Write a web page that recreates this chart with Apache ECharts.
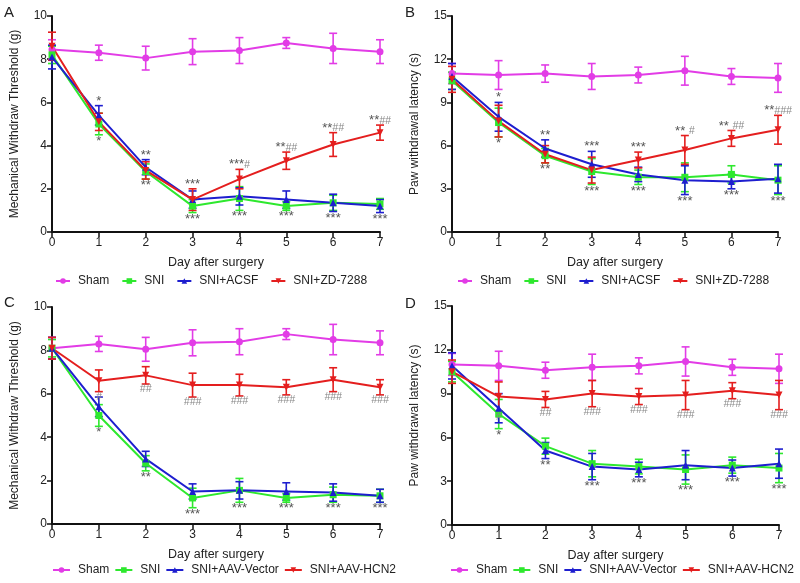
<!DOCTYPE html>
<html><head><meta charset="utf-8">
<script src="https://cdn.jsdelivr.net/npm/echarts@6/dist/echarts.min.js"></script>
<style>html,body{margin:0;padding:0;background:#fff}#c{width:800px;height:583px}</style>
</head><body><div id="c"></div>
<script>
const days = [0,1,2,3,4,5,6,7];

// Panel A: mechanical withdraw threshold (g)
const aShamMean = [8.45, 8.3, 8.05, 8.35, 8.4, 8.75, 8.5, 8.35];
const aShamErr  = [0.45, 0.35, 0.55, 0.6, 0.6, 0.25, 0.7, 0.55];
const aSniMean  = [8.2, 5.0, 2.8, 1.2, 1.55, 1.2, 1.35, 1.3];
const aSniErr   = [0.4, 0.5, 0.35, 0.3, 0.55, 0.2, 0.35, 0.25];
const aAcsfMean = [8.1, 5.4, 3.0, 1.5, 1.65, 1.5, 1.35, 1.2];
const aAcsfErr  = [0.55, 0.45, 0.35, 0.4, 0.4, 0.4, 0.4, 0.3];
const aZdMean   = [8.6, 5.1, 2.85, 1.5, 2.45, 3.3, 4.05, 4.6];
const aZdErr    = [0.65, 0.4, 0.4, 0.5, 0.45, 0.4, 0.55, 0.35];
const aAbove = ['', '*', '**', '***', '***#', '**##', '**##', '**##'];
const aBelow = ['', '*', '**', '***', '***', '***', '***', '***'];

// Panel B: paw withdrawal latency (s)
const bShamMean = [11.0, 10.9, 11.0, 10.8, 10.9, 11.2, 10.8, 10.7];
const bShamErr  = [0.7, 1.0, 0.6, 0.9, 0.55, 1.0, 0.55, 1.0];
const bSniMean  = [10.5, 7.6, 5.3, 4.2, 3.8, 3.8, 4.0, 3.6];
const bSniErr   = [0.6, 1.0, 0.5, 0.9, 0.5, 1.0, 0.6, 1.0];
const bAcsfMean = [10.8, 8.0, 5.8, 4.7, 4.0, 3.6, 3.5, 3.7];
const bAcsfErr  = [0.9, 1.0, 0.6, 0.9, 0.5, 1.0, 0.5, 1.0];
const bZdMean   = [10.6, 7.7, 5.4, 4.3, 5.0, 5.7, 6.5, 7.1];
const bZdErr    = [0.9, 1.1, 0.6, 0.9, 0.55, 1.0, 0.55, 1.0];
const bAbove = ['', '*', '**', '***', '***', '** #', '** ##', '**###'];
const bBelow = ['', '*', '**', '***', '***', '***', '***', '***'];

// Panel C: mechanical withdraw threshold (g)
const cShamMean = [8.1, 8.3, 8.05, 8.35, 8.4, 8.75, 8.5, 8.35];
const cShamErr  = [0.5, 0.35, 0.55, 0.6, 0.6, 0.25, 0.7, 0.55];
const cSniMean  = [8.1, 5.0, 2.8, 1.2, 1.55, 1.2, 1.35, 1.3];
const cSniErr   = [0.4, 0.5, 0.35, 0.45, 0.55, 0.2, 0.35, 0.3];
const cVecMean  = [8.1, 5.4, 3.0, 1.5, 1.55, 1.5, 1.45, 1.3];
const cVecErr   = [0.5, 0.45, 0.35, 0.35, 0.4, 0.4, 0.4, 0.3];
const cHcnMean  = [8.1, 6.6, 6.85, 6.4, 6.4, 6.3, 6.65, 6.3];
const cHcnErr   = [0.5, 0.5, 0.4, 0.55, 0.5, 0.35, 0.55, 0.35];
const cBelow = ['', '*', '**', '***', '***', '***', '***', '***'];
const cHash  = ['', '#', '##', '###', '###', '###', '###', '###'];

// Panel D: paw withdrawal latency (s)
const dShamMean = [11.0, 10.9, 10.6, 10.8, 10.9, 11.2, 10.8, 10.7];
const dShamErr  = [0.75, 1.0, 0.55, 0.9, 0.55, 1.0, 0.55, 1.0];
const dSniMean  = [10.5, 7.6, 5.4, 4.2, 4.0, 3.8, 4.1, 3.9];
const dSniErr   = [0.7, 1.0, 0.55, 0.9, 0.5, 1.0, 0.55, 1.0];
const dVecMean  = [10.9, 8.0, 5.1, 4.0, 3.8, 4.1, 3.9, 4.2];
const dVecErr   = [0.9, 1.0, 0.55, 0.9, 0.5, 1.0, 0.55, 1.0];
const dHcnMean  = [10.5, 8.8, 8.6, 9.0, 8.8, 8.9, 9.2, 8.9];
const dHcnErr   = [0.8, 1.0, 0.55, 0.9, 0.55, 1.0, 0.55, 1.0];
const dBelow = ['', '*', '**', '***', '***', '***', '***', '***'];
const dHash  = ['', '#', '##', '###', '###', '###', '###', '###'];

const COL = {sham:'#e23ce6', sni:'#2ee82e', blue:'#1e1ecf', red:'#e41e1e'};
const FONT = 'Liberation Sans, Arial, sans-serif';

const grids = [
  {left:52, top:16, width:328, height:216},
  {left:452, top:16, width:326, height:216},
  {left:52, top:307, width:328, height:217},
  {left:452, top:306, width:327, height:219}
];
const yNames = ['Mechanical Withdraw Threshold (g)','Paw withdrawal latency (s)','Mechanical Withdraw Threshold (g)','Paw withdrawal latency (s)'];
const yMax = [10, 15, 10, 15];
const yInt = [2, 3, 2, 3];

const xAxes = grids.map((g,i)=>({
  type:'value', gridIndex:i, min:0, max:7, interval:1,
  name:'Day after surgery', nameLocation:'middle', nameGap:24,
  nameTextStyle:{fontFamily:FONT, fontSize:12.5, color:'#222'},
  axisLine:{lineStyle:{color:'#111', width:2}},
  axisTick:{show:true, length:5, lineStyle:{color:'#111', width:1.5}},
  axisLabel:{fontFamily:FONT, fontSize:12, color:'#222', margin:5},
  splitLine:{show:false}
}));
const yAxes = grids.map((g,i)=>({
  type:'value', gridIndex:i, min:0, max:yMax[i], interval:yInt[i],
  name:yNames[i], nameLocation:'middle', nameGap:31, nameRotate:90,
  nameTextStyle:{fontFamily:FONT, fontSize:12, color:'#222'},
  axisLine:{show:true, lineStyle:{color:'#111', width:2}},
  axisTick:{show:true, length:5, lineStyle:{color:'#111', width:1.5}},
  axisLabel:{fontFamily:FONT, fontSize:12, color:'#222', margin:5},
  splitLine:{show:false}
}));

const series = [];
function addGroup(panel, name, color, symbol, rotate, mean, err){
  series.push({
    type:'custom', xAxisIndex:panel, yAxisIndex:panel, silent:true, z:3,
    data: days.map((d,i)=>[d, mean[i]-err[i], mean[i]+err[i]]),
    renderItem:(params, api)=>{
      const lo = api.coord([api.value(0), api.value(1)]);
      const hi = api.coord([api.value(0), api.value(2)]);
      const w = 4, st = {stroke:color, lineWidth:1.6};
      return {type:'group', children:[
        {type:'line', shape:{x1:lo[0], y1:lo[1], x2:hi[0], y2:hi[1]}, style:st},
        {type:'line', shape:{x1:lo[0]-w, y1:lo[1], x2:lo[0]+w, y2:lo[1]}, style:st},
        {type:'line', shape:{x1:hi[0]-w, y1:hi[1], x2:hi[0]+w, y2:hi[1]}, style:st}
      ]};
    }
  });
  series.push({
    type:'line', name, xAxisIndex:panel, yAxisIndex:panel, z:4,
    data: days.map((d,i)=>[d, mean[i]]),
    symbol, symbolSize:7, symbolRotate:rotate, showSymbol:true,
    lineStyle:{color, width:2}, itemStyle:{color}
  });
}
function addText(panel, anchors, texts, below){
  series.push({
    type:'custom', xAxisIndex:panel, yAxisIndex:panel, silent:true, z:5,
    data: days.map((d,i)=>[d, anchors[i], texts[i]]),
    renderItem:(params, api)=>{
      const t = texts[params.dataIndex];
      if(!t) return null;
      const p = api.coord([api.value(0), api.value(1)]);
      const m = t.match(/^([*\s]*)(#*)$/);
      const stars = m ? m[1] : t, hashes = m ? m[2] : '';
      let txt = '';
      if(stars) txt += '{s|' + stars + '}';
      if(hashes) txt += '{h|' + hashes + '}';
      return {type:'text', x:p[0], y:p[1] + (below ? 0 : 2), style:{
        text:txt, align:'center', verticalAlign: below ? 'top' : 'bottom',
        rich:{
          s:{fontFamily:FONT, fontSize:13, fill:'#555'},
          h:{fontFamily:FONT, fontSize:10.5, fontStyle:'italic', fill:'#888'}
        }
      }};
    }
  });
}
function maxTop(groups){ return days.map((d,i)=>Math.max(...groups.map(g=>g[0][i]+g[1][i]))); }
function minBot(groups){ return days.map((d,i)=>Math.min(...groups.map(g=>g[0][i]-g[1][i]))); }

// A
addGroup(0,'Sham',COL.sham,'circle',0,aShamMean,aShamErr);
addGroup(0,'SNI',COL.sni,'rect',0,aSniMean,aSniErr);
addGroup(0,'SNI+ACSF',COL.blue,'triangle',0,aAcsfMean,aAcsfErr);
addGroup(0,'SNI+ZD-7288',COL.red,'triangle',180,aZdMean,aZdErr);
addText(0, maxTop([[aSniMean,aSniErr],[aAcsfMean,aAcsfErr],[aZdMean,aZdErr]]), aAbove, false);
addText(0, minBot([[aSniMean,aSniErr],[aAcsfMean,aAcsfErr],[aZdMean,aZdErr]]), aBelow, true);
// B
addGroup(1,'Sham',COL.sham,'circle',0,bShamMean,bShamErr);
addGroup(1,'SNI',COL.sni,'rect',0,bSniMean,bSniErr);
addGroup(1,'SNI+ACSF',COL.blue,'triangle',0,bAcsfMean,bAcsfErr);
addGroup(1,'SNI+ZD-7288',COL.red,'triangle',180,bZdMean,bZdErr);
addText(1, maxTop([[bSniMean,bSniErr],[bAcsfMean,bAcsfErr],[bZdMean,bZdErr]]), bAbove, false);
addText(1, minBot([[bSniMean,bSniErr],[bAcsfMean,bAcsfErr],[bZdMean,bZdErr]]), bBelow, true);
// C
addGroup(2,'Sham',COL.sham,'circle',0,cShamMean,cShamErr);
addGroup(2,'SNI',COL.sni,'rect',0,cSniMean,cSniErr);
addGroup(2,'SNI+AAV-Vector',COL.blue,'triangle',0,cVecMean,cVecErr);
addGroup(2,'SNI+AAV-HCN2',COL.red,'triangle',180,cHcnMean,cHcnErr);
addText(2, minBot([[cSniMean,cSniErr],[cVecMean,cVecErr]]), cBelow, true);
addText(2, minBot([[cHcnMean,cHcnErr]]), cHash, true);
// D
addGroup(3,'Sham',COL.sham,'circle',0,dShamMean,dShamErr);
addGroup(3,'SNI',COL.sni,'rect',0,dSniMean,dSniErr);
addGroup(3,'SNI+AAV-Vector',COL.blue,'triangle',0,dVecMean,dVecErr);
addGroup(3,'SNI+AAV-HCN2',COL.red,'triangle',180,dHcnMean,dHcnErr);
addText(3, minBot([[dSniMean,dSniErr],[dVecMean,dVecErr]]), dBelow, true);
addText(3, minBot([[dHcnMean,dHcnErr]]), dHash, true);

const legText = {fontFamily:FONT, fontSize:12, color:'#222', padding:[0,0,0,3]};
const legends = [
  {left:55, top:275, data:['Sham','SNI','SNI+ACSF','SNI+ZD-7288'], itemGap:12, itemWidth:14},
  {left:457, top:275, data:['Sham','SNI','SNI+ACSF','SNI+ZD-7288'], itemGap:12, itemWidth:14},
  {left:52, top:564, data:['Sham','SNI','SNI+AAV-Vector','SNI+AAV-HCN2'], itemGap:5, itemWidth:17},
  {left:450, top:564, data:['Sham','SNI','SNI+AAV-Vector','SNI+AAV-HCN2'], itemGap:5, itemWidth:17}
].map(l=>Object.assign({itemHeight:7, textStyle:legText, selectedMode:false, padding:0}, l));

const titles = [['A',4,5],['B',405,5],['C',4,295],['D',405,296]].map(t=>({
  text:t[0], left:t[1], top:t[2], padding:0,
  textStyle:{fontFamily:FONT, fontSize:15, fontWeight:'normal', color:'#222'}
}));

const chart = echarts.init(document.getElementById('c'), null, {renderer:'canvas'});
chart.setOption({
  animation:false,
  title:titles,
  legend:legends,
  grid:grids,
  xAxis:xAxes,
  yAxis:yAxes,
  series
});
</script></body></html>
